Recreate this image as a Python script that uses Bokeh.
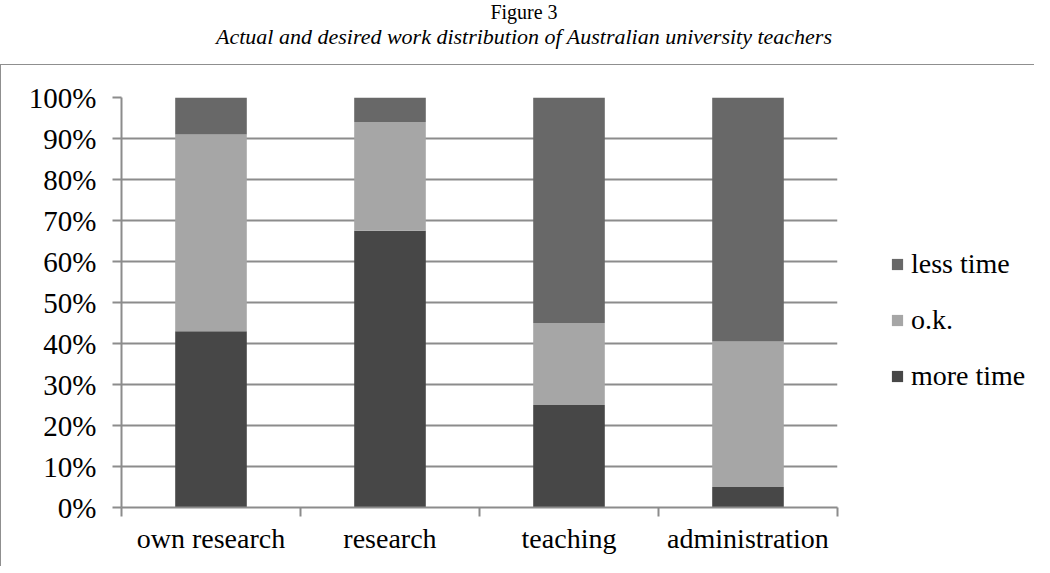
from bokeh.plotting import figure
from bokeh.layouts import column, row
from bokeh.models import (FactorRange, Range1d, LinearAxis, CategoricalAxis, FixedTicker,
                          NumeralTickFormatter, Legend, LegendItem, Div, ColumnDataSource)
from bokeh.embed import file_html
from bokeh.resources import INLINE

title_text = "Figure 3"
subtitle_text = "Actual and desired work distribution of Australian university teachers"
categories = ["own research", "research", "teaching", "administration"]
more_time = [0.43, 0.675, 0.25, 0.05]
ok = [0.48, 0.265, 0.20, 0.355]
less_time = [0.09, 0.06, 0.55, 0.595]
series_labels = ["more time", "o.k.", "less time"]
series_colors = ["#474747", "#a6a6a6", "#686868"]
legend_order = ["less time", "o.k.", "more time"]
y_ticks = [i / 10 for i in range(11)]

FONT = "Liberation Serif"
GRAY = "#8c8c8c"
BORDER = "1px solid #8f8f8f"

source = ColumnDataSource(dict(cat=categories, more=more_time, ok=ok, less=less_time))

base = (f"width:1034px;text-align:center;font-family:'{FONT}';"
        f"padding-left:4px;color:#000;white-space:nowrap;")
header = Div(
    text=(f'<div style="{base}font-size:20px;line-height:23px;margin-top:-4px">{title_text}</div>'
          f'<div style="{base}font-size:22px;line-height:26px;font-style:italic">{subtitle_text}</div>'),
    width=1034, height=54)

p = figure(x_range=FactorRange(*categories), y_range=Range1d(0, 1),
           width=846, height=502, output_backend="svg", toolbar_location=None,
           x_axis_location=None,
           min_border_left=120, min_border_right=10, min_border_top=32, min_border_bottom=60,
           styles={"border-top": BORDER, "border-left": BORDER})
p.outline_line_color = None
p.background_fill_color = "white"
p.border_fill_color = "white"

renderers = p.vbar_stack(["more", "ok", "less"], x="cat", width=0.4, color=series_colors,
                         line_color=None, source=source)

# grid
p.xgrid.visible = False
p.ygrid.ticker = FixedTicker(ticks=y_ticks)
p.ygrid.grid_line_color = GRAY
p.ygrid.grid_line_width = 2

# y axis
ya = p.yaxis[0]
ya.ticker = FixedTicker(ticks=y_ticks)
ya.formatter = NumeralTickFormatter(format="0%")
ya.major_label_text_font = FONT
ya.major_label_text_font_size = "29px"
ya.major_label_text_color = "black"
ya.axis_line_color = GRAY
ya.axis_line_width = 2
ya.major_tick_line_color = GRAY
ya.major_tick_line_width = 2
ya.major_tick_out = 9
ya.major_tick_in = 0
ya.minor_tick_line_color = None
ya.major_label_standoff = 16

# bottom axis with ticks at category boundaries (synthetic coordinates of the factor range)
bounds = list(range(len(categories) + 1))
tick_axis = LinearAxis(ticker=FixedTicker(ticks=bounds),
                       major_label_overrides={b: "" for b in bounds},
                       major_label_standoff=0,
                       minor_tick_line_color=None,
                       axis_line_color=GRAY, axis_line_width=2,
                       major_tick_line_color=GRAY, major_tick_line_width=2,
                       major_tick_out=9, major_tick_in=0)
p.add_layout(tick_axis, "below")

cat_axis = CategoricalAxis(axis_line_color=None, major_tick_line_color=None,
                           major_tick_out=0, major_tick_in=0,
                           major_label_text_font=FONT, major_label_text_font_size="28px",
                           major_label_text_color="black", major_label_standoff=6)
p.add_layout(cat_axis, "below")

# legend panel (separate canvas to the right, swatches styled like the series)
lg = figure(width=188, height=502, x_range=Range1d(0, 1), y_range=Range1d(0, 1),
            output_backend="svg", toolbar_location=None,
            x_axis_location=None, y_axis_location=None,
            min_border_left=0, min_border_right=0, min_border_top=0, min_border_bottom=0,
            styles={"border-top": BORDER})
lg.outline_line_color = None
lg.xgrid.visible = False
lg.ygrid.visible = False
proxies = {lab: lg.vbar(x=[0], top=[0], width=0, color=col, line_color=None)
           for lab, col in zip(series_labels, series_colors)}
legend = Legend(items=[LegendItem(label=lab, renderers=[proxies[lab]]) for lab in legend_order],
                location=(44, 115), glyph_width=14, glyph_height=14,
                label_text_font=FONT, label_text_font_size="28px", label_text_color="black",
                label_height=30, label_standoff=7, spacing=24, padding=0, margin=0,
                border_line_color=None, background_fill_alpha=0)
lg.add_layout(legend)

layout = column(header, row(p, lg, spacing=0), spacing=0)
open("out.html", "w").write(file_html(layout, INLINE))
